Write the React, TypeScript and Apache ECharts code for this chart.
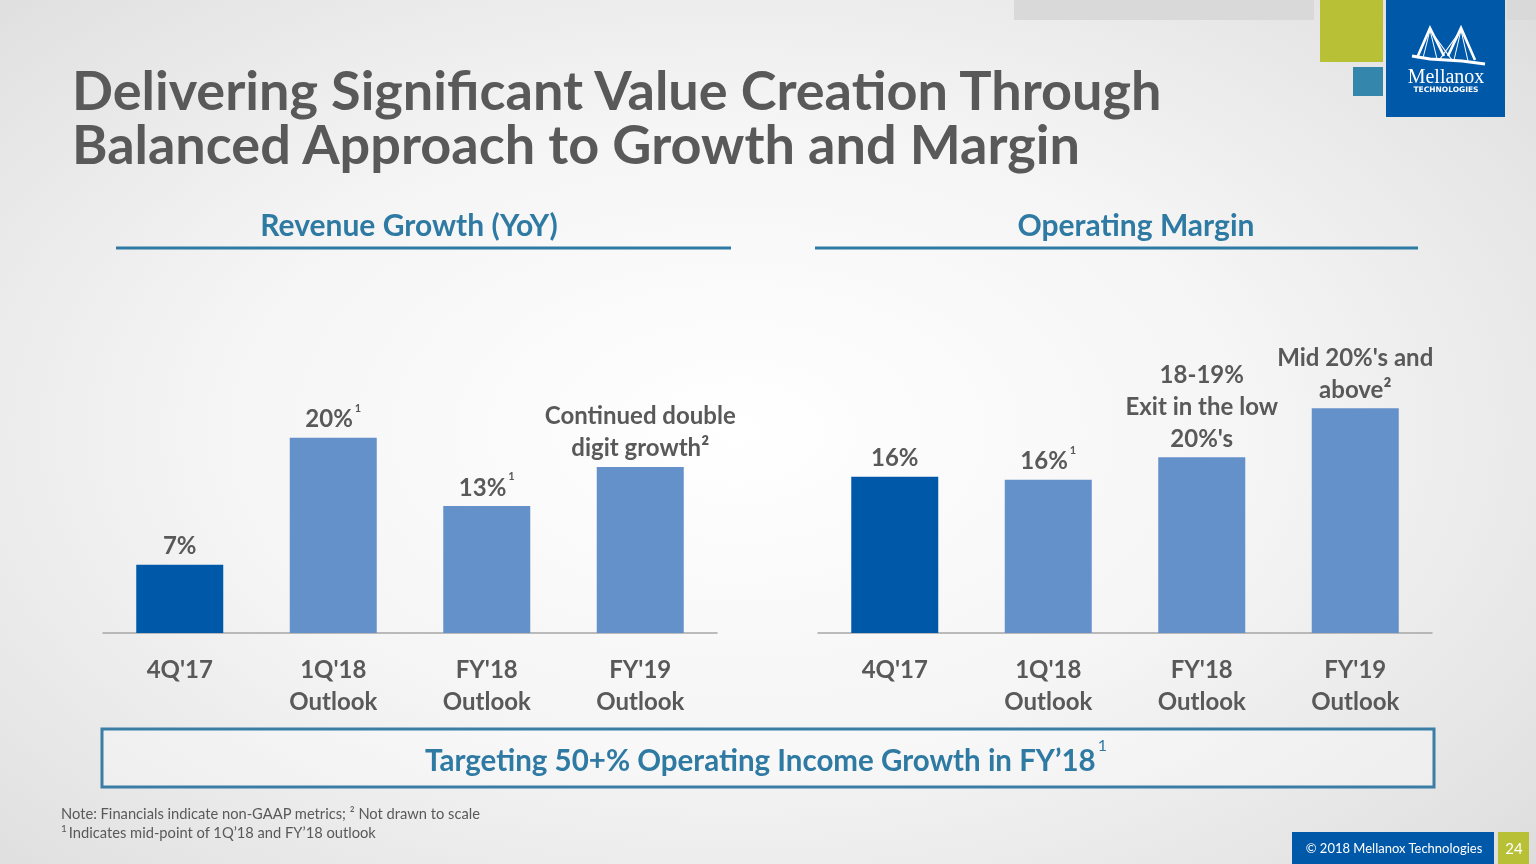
import React, { useEffect, useRef } from 'react';
import * as echarts from 'echarts';

const categories = ["4Q'17", "1Q'18\nOutlook", "FY'18\nOutlook", "FY'19\nOutlook"];
const revenueGrowth = [7, 20, 13, 17];
const revenueLabels = ['7%', '20%{s|1}', '13%{s|1}', 'Continued double\ndigit growth²'];
const operatingMargin = [16, 15.7, 18, 23];
const marginLabels = ['16%', '16%{s|1}', "18-19%\nExit in the low\n20%'s", "Mid 20%'s and\nabove²"];
const barColors = ['#0058a9', '#6591cb', '#6591cb', '#6591cb'];

const FONT = 'Lato, "Open Sans", sans-serif';
const GREY = '#595959';
const TEAL = '#2f7aa3';

function barSeries(values: number[], labels: string[], idx: number) {
  return {
    type: 'bar',
    xAxisIndex: idx,
    yAxisIndex: idx,
    barWidth: 87,
    data: values.map((v, i) => ({ value: v, itemStyle: { color: barColors[i] } })),
    label: {
      show: true,
      position: 'top',
      distance: 4,
      fontFamily: FONT,
      fontWeight: 'bold',
      fontSize: 24,
      lineHeight: 32,
      color: GREY,
      formatter: (p: any) => labels[p.dataIndex],
      rich: {
        s: { fontFamily: FONT, fontSize: 11, lineHeight: 11, verticalAlign: 'top', color: GREY, padding: [0, 0, 0, 2] },
      },
    },
  };
}

function xAxis(idx: number) {
  return {
    type: 'category',
    gridIndex: idx,
    data: categories,
    axisTick: { show: false },
    axisLine: { lineStyle: { color: '#a6a6a6', width: 1.5 } },
    axisLabel: {
      margin: 19,
      fontFamily: FONT,
      fontWeight: 'bold',
      fontSize: 24,
      lineHeight: 32,
      color: GREY,
    },
  };
}

function yAxis(idx: number) {
  return { type: 'value', gridIndex: idx, min: 0, max: 30, show: false };
}

export default function App() {
  const ref = useRef<HTMLDivElement>(null);
  useEffect(() => {
    if (!ref.current) return;
    const chart = echarts.init(ref.current, undefined, { renderer: 'svg' });
    const W = '#ffffff';
    chart.setOption({
      animation: false,
      backgroundColor: 'transparent',
      grid: [
        { left: 103, width: 614, top: 340, height: 293 },
        { left: 818, width: 614, top: 340, height: 293 },
      ],
      xAxis: [xAxis(0), xAxis(1)],
      yAxis: [yAxis(0), yAxis(1)],
      series: [barSeries(revenueGrowth, revenueLabels, 0), barSeries(operatingMargin, marginLabels, 1)],
      graphic: [
        // top decorations
        { type: 'rect', shape: { x: 1014, y: 0, width: 300, height: 20 }, style: { fill: '#d9d9d9' } },
        { type: 'rect', shape: { x: 1507, y: 0, width: 29, height: 20 }, style: { fill: '#d9d9d9' } },
        { type: 'rect', shape: { x: 1320, y: 0, width: 63, height: 62 }, style: { fill: '#b8c035' } },
        { type: 'rect', shape: { x: 1353, y: 67, width: 30, height: 29 }, style: { fill: '#3586ad' } },
        { type: 'rect', shape: { x: 1386, y: 0, width: 119, height: 117 }, style: { fill: '#0058a9' } },
        // bridge logo
        { type: 'polyline', shape: { points: [[1417, 58], [1430, 28], [1444, 56]] }, style: { stroke: W, lineWidth: 2.6, fill: 'none' } },
        { type: 'polyline', shape: { points: [[1448, 56], [1461, 28], [1475, 60]] }, style: { stroke: W, lineWidth: 2.6, fill: 'none' } },
        { type: 'polyline', shape: { points: [[1412, 56], [1430, 59], [1446, 60], [1462, 61], [1485, 64]] }, style: { stroke: W, lineWidth: 3, fill: 'none' } },
        { type: 'polyline', shape: { points: [[1423, 58], [1430, 30], [1437, 59]] }, style: { stroke: W, lineWidth: 1, fill: 'none' } },
        { type: 'polyline', shape: { points: [[1454, 60], [1461, 30], [1468, 61]] }, style: { stroke: W, lineWidth: 1, fill: 'none' } },
        { type: 'line', shape: { x1: 1430, y1: 30, x2: 1452, y2: 60 }, style: { stroke: W, lineWidth: 1.2 } },
        { type: 'line', shape: { x1: 1461, y1: 30, x2: 1440, y2: 59 }, style: { stroke: W, lineWidth: 1.2 } },
        { type: 'text', x: 1446, y: 76, style: { text: 'Mellanox', fill: W, font: '20px "Liberation Serif", serif', align: 'center', verticalAlign: 'middle', lineHeight: 16 } },
        { type: 'text', x: 1446, y: 89, style: { text: 'TECHNOLOGIES', fill: W, font: 'bold 7.5px "DejaVu Sans", sans-serif', align: 'center', verticalAlign: 'middle', lineHeight: 7 } },
        // title
        {
          type: 'text', x: 72, y: 116,
          style: {
            text: 'Delivering Significant Value Creation Through\nBalanced Approach to Growth and Margin',
            fill: GREY, font: `bold 54px ${FONT}`, verticalAlign: 'middle', lineHeight: 54,
          },
        },
        // section headings
        { type: 'text', x: 409, y: 224, style: { text: 'Revenue Growth (YoY)', fill: TEAL, font: `bold 30px ${FONT}`, align: 'center', verticalAlign: 'middle' } },
        { type: 'text', x: 1136, y: 224, style: { text: 'Operating Margin', fill: TEAL, font: `bold 30px ${FONT}`, align: 'center', verticalAlign: 'middle' } },
        { type: 'line', shape: { x1: 116, y1: 248, x2: 731, y2: 248 }, style: { stroke: TEAL, lineWidth: 3 } },
        { type: 'line', shape: { x1: 815, y1: 248, x2: 1418, y2: 248 }, style: { stroke: TEAL, lineWidth: 3 } },
        // bottom box
        { type: 'rect', shape: { x: 102, y: 729, width: 1332, height: 58 }, style: { fill: 'rgba(255,255,255,0.35)', stroke: '#3a7ea5', lineWidth: 3 } },
        {
          type: 'text', x: 766, y: 759,
          style: {
            text: 'Targeting 50+% Operating Income Growth in FY’18{s|1}',
            fill: TEAL, font: `bold 29.5px ${FONT}`, align: 'center', verticalAlign: 'middle', lineHeight: 46,
            rich: { s: { fill: TEAL, font: `16px ${FONT}`, lineHeight: 16, verticalAlign: 'top', padding: [0, 0, 0, 2] } },
          },
        },
        // notes
        { type: 'text', x: 61, y: 813, style: { text: 'Note: Financials indicate non-GAAP metrics; ² Not drawn to scale', fill: GREY, font: `14.7px ${FONT}`, verticalAlign: 'middle' } },
        {
          type: 'text', x: 61, y: 832,
          style: {
            text: '{s|1}Indicates mid-point of 1Q’18 and FY’18 outlook', fill: GREY, font: `14.7px ${FONT}`, verticalAlign: 'middle', lineHeight: 18,
            rich: { s: { fill: GREY, font: `10px ${FONT}`, lineHeight: 10, verticalAlign: 'top', padding: [0, 2, 0, 0] } },
          },
        },
        // footer
        { type: 'rect', shape: { x: 1292, y: 832, width: 202, height: 32 }, style: { fill: '#0058a9' } },
        { type: 'text', x: 1394, y: 848, style: { text: '© 2018 Mellanox Technologies', fill: W, font: `13px ${FONT}`, align: 'center', verticalAlign: 'middle' } },
        { type: 'rect', shape: { x: 1498, y: 832, width: 31, height: 32 }, style: { fill: '#b8c035' } },
        { type: 'text', x: 1514, y: 848, style: { text: '24', fill: W, font: `15px ${FONT}`, align: 'center', verticalAlign: 'middle' } },
      ],
    });
    return () => chart.dispose();
  }, []);
  return (
    <div
      style={{
        position: 'fixed', left: 0, top: 0, width: 1536, height: 864,
        background: 'radial-gradient(ellipse 75% 80% at 48% 50%, #ffffff 0%, #f5f5f5 45%, #e2e2e2 85%, #d8d8d8 100%)',
      }}
    >
      <div ref={ref} style={{ width: 1536, height: 864 }} />
    </div>
  );
}
